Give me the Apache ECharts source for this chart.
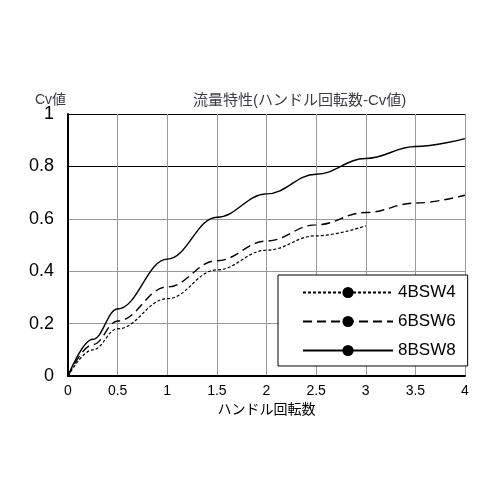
<!DOCTYPE html>
<html><head><meta charset="utf-8">
<script src="https://cdn.jsdelivr.net/npm/echarts@6/dist/echarts.min.js"></script>
<style>body{margin:0}#main{width:500px;height:500px}</style>
</head><body><div id="main"></div>
<script>
var turns = [0, 0.25, 0.5, 1, 1.5, 2, 2.5, 3, 3.5, 4];
var cv4 = [0, 0.10, 0.18, 0.295, 0.405, 0.48, 0.535, 0.573];
var cv6 = [0, 0.12, 0.21, 0.34, 0.44, 0.515, 0.577, 0.624, 0.66, 0.69];
var cv8 = [0, 0.14, 0.256, 0.446, 0.606, 0.695, 0.77, 0.83, 0.876, 0.906];
var names = ['4BSW4', '6BSW6', '8BSW8'];

function pairs(arr) {
    return arr.map(function (v, i) { return [turns[i], v]; });
}

var font = 'Arial, "Noto Sans CJK JP", sans-serif';
var myChart = echarts.init(document.getElementById('main'));
var option = {
    animation: false,
    textStyle: { fontFamily: font, color: '#000' },
    title: [
        { text: 'Cv値', left: 30, top: 88, textStyle: { fontSize: 14, fontWeight: 'normal', fontFamily: font } },
        { text: '流量特性(ハンドル回転数-Cv値)', left: 188, top: 88, textStyle: { fontSize: 15, fontWeight: 'normal', fontFamily: font } }
    ],
    grid: { left: 68, right: 35, top: 114, bottom: 124 },
    legend: {
        orient: 'vertical', left: 278, top: 275,
        backgroundColor: '#fff', borderColor: '#000', borderWidth: 1,
        padding: [9, 12, 7, 24], itemGap: 12,
        itemWidth: 90, itemHeight: 14,
        textStyle: { fontSize: 17, fontFamily: font, color: '#000' },
        data: names
    },
    xAxis: {
        type: 'value', min: 0, max: 4, interval: 0.5,
        name: 'ハンドル回転数', nameLocation: 'middle', nameGap: 26,
        nameTextStyle: { fontSize: 14, fontFamily: font },
        axisLine: { lineStyle: { color: '#000', width: 2 } },
        axisTick: { show: false },
        axisLabel: { fontSize: 14, color: '#000' },
        splitLine: { lineStyle: { color: '#999', width: 1 } }
    },
    yAxis: {
        type: 'value', min: 0, max: 1, interval: 0.2,
        axisLine: { show: true, lineStyle: { color: '#000', width: 2 } },
        axisTick: { show: false },
        axisLabel: { fontSize: 18, color: '#000', margin: 14,
            formatter: function (v) { return v === 0 || v === 1 ? String(v) : v.toFixed(1); } },
        splitLine: { lineStyle: { color: ['#999', '#999', '#999', '#999', '#000', '#000'], width: 1 } }
    },
    series: [
        { name: names[0], type: 'line', smooth: 0.4, smoothMonotone: 'x', symbol: 'none', data: pairs(cv4),
          lineStyle: { color: '#000', width: 1.2, type: [3, 2] }, itemStyle: { color: '#000' } },
        { name: names[1], type: 'line', smooth: 0.4, smoothMonotone: 'x', symbol: 'none', data: pairs(cv6),
          lineStyle: { color: '#000', width: 1.4, type: [9, 5] }, itemStyle: { color: '#000' } },
        { name: names[2], type: 'line', smooth: 0.4, smoothMonotone: 'x', symbol: 'none', data: pairs(cv8),
          lineStyle: { color: '#000', width: 1.4 }, itemStyle: { color: '#000' } }
    ]
};
myChart.setOption(option);
</script></body></html>
